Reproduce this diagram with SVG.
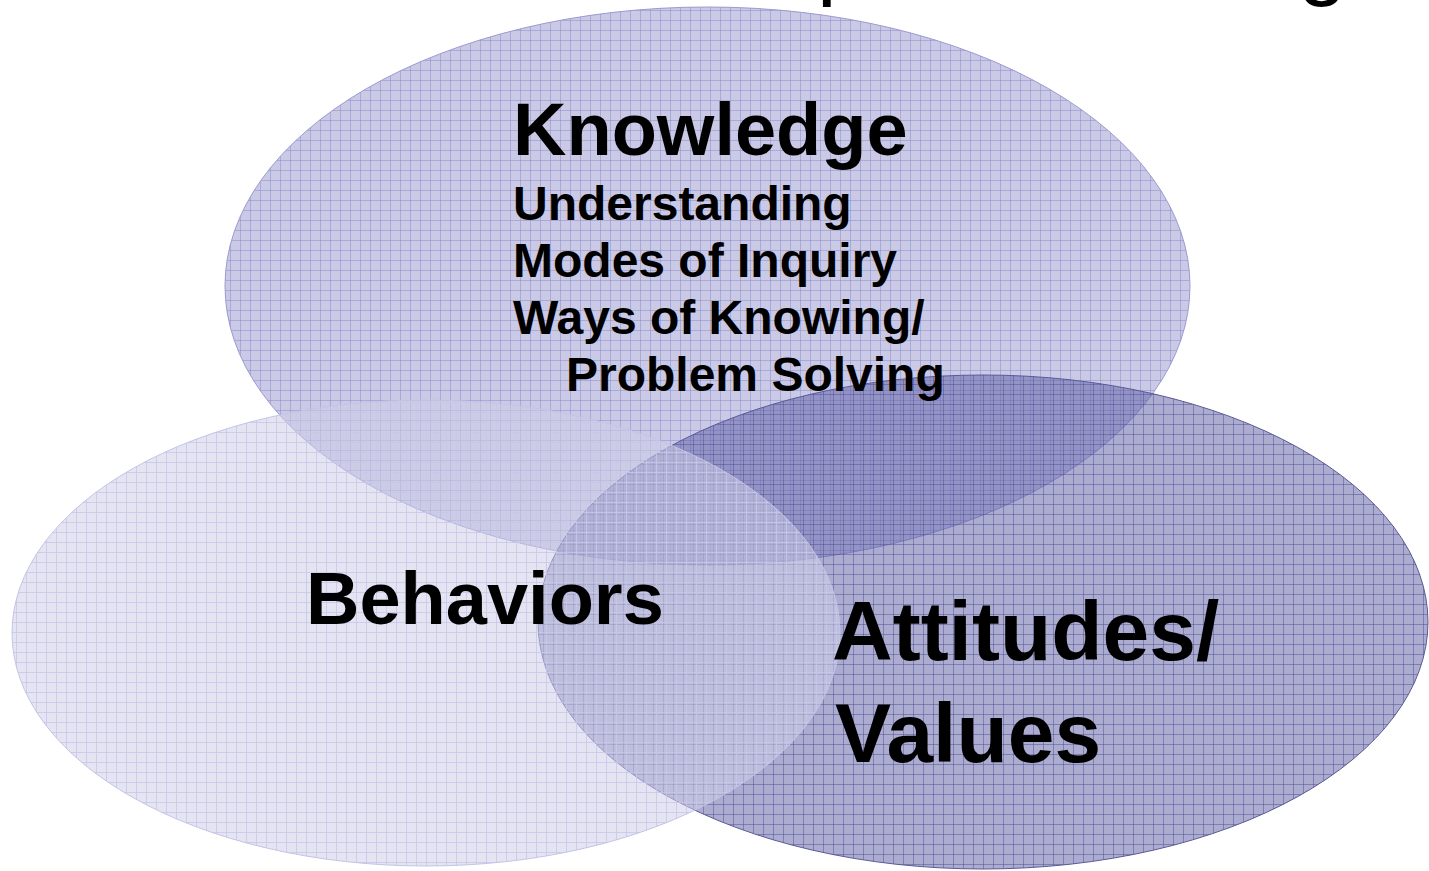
<svg xmlns="http://www.w3.org/2000/svg" width="1429" height="871" viewBox="0 0 1429 871">
<style>
.lbl{font-family:"Liberation Sans",Arial,sans-serif;font-weight:bold;fill:#000}
.title{font-family:"Liberation Sans",Arial,sans-serif;font-size:88px;fill:#000}
</style>
<defs>
<pattern id="gk" width="10" height="10" patternUnits="userSpaceOnUse">
<path d="M0 0.5H10M0.5 0V10" stroke="#8282c8" stroke-opacity="0.45" stroke-width="1" fill="none"/>
</pattern>
<pattern id="ga" width="10" height="10" patternUnits="userSpaceOnUse" x="3" y="4">
<path d="M0 0.5H10M0.5 0V10" stroke="#46468c" stroke-opacity="0.45" stroke-width="1" fill="none"/>
</pattern>
<pattern id="gb" width="10" height="10" patternUnits="userSpaceOnUse" x="6" y="2">
<path d="M0 0.5H10M0.5 0V10" stroke="#c7c7e8" stroke-opacity="0.8" stroke-width="1" fill="none"/>
</pattern>
</defs>
<rect width="1429" height="871" fill="#ffffff"/>
<text class="title" y="-11"><tspan x="817">p</tspan><tspan x="920">,</tspan><tspan x="1298">g</tspan></text>
<g id="knowledge">
<ellipse cx="707.5" cy="286" rx="482.5" ry="279" fill="#caCae7"/>
<ellipse cx="707.5" cy="286" rx="482.5" ry="279" fill="url(#gk)" stroke="#9a9ad2" stroke-width="1"/>
</g>
<g id="attitudes">
<ellipse cx="983" cy="622" rx="445" ry="247" fill="#6060a6" fill-opacity="0.52"/>
<ellipse cx="983" cy="622" rx="445" ry="247" fill="url(#ga)" stroke="#5a5a96" stroke-width="1"/>
</g>
<g id="behaviors">
<ellipse cx="426" cy="633" rx="414" ry="233" fill="#cdcde7" fill-opacity="0.54"/>
<ellipse cx="426" cy="633" rx="414" ry="233" fill="url(#gb)" stroke="#c4c4e6" stroke-width="1"/>
</g>
<g id="connectors"></g>
<g id="labels">
<text class="lbl" x="513" y="155" font-size="74">Knowledge</text>
<text class="lbl" font-size="48"><tspan x="513" y="220">Understanding</tspan><tspan x="513" y="277">Modes of Inquiry</tspan><tspan x="513" y="334">Ways of Knowing/</tspan><tspan x="566" y="391">Problem Solving</tspan></text>
<text class="lbl" x="306" y="624" font-size="74">Behaviors</text>
<text class="lbl" font-size="84"><tspan x="832" y="660">Attitudes/</tspan><tspan x="835" y="762">Values</tspan></text>
</g>
</svg>
